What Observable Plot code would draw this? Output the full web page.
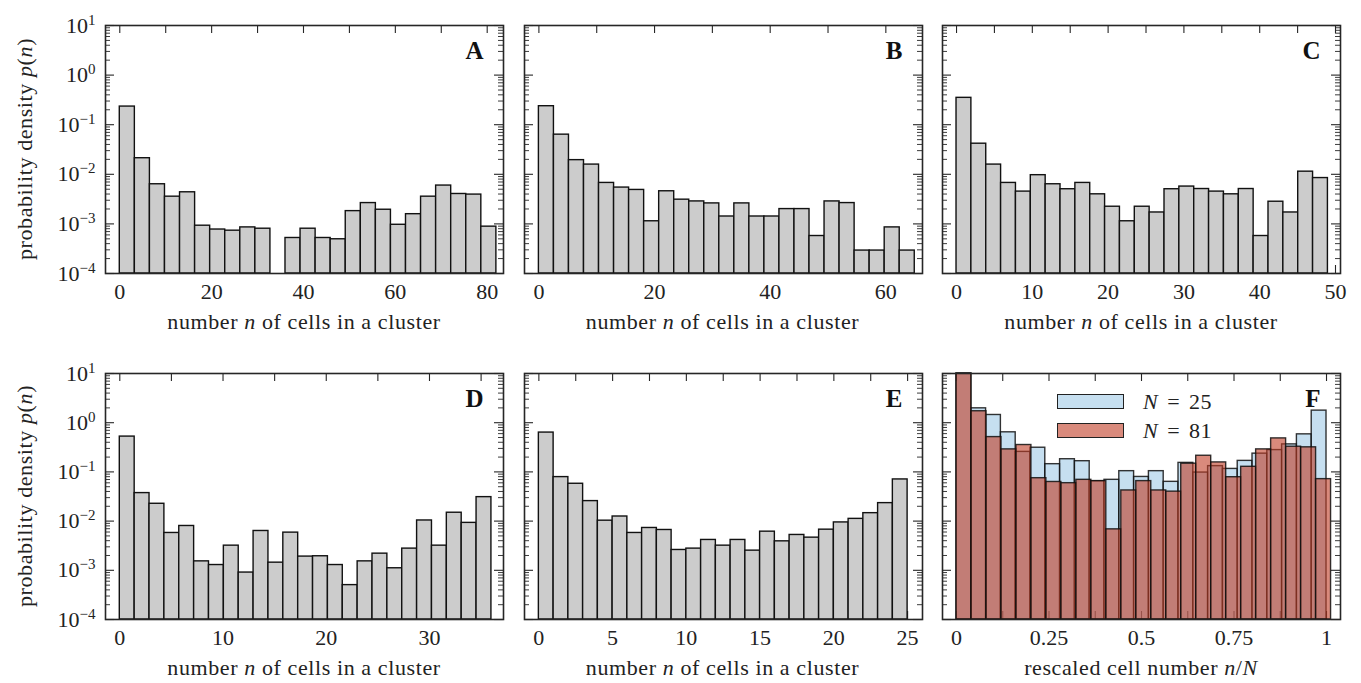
<!DOCTYPE html>
<html><head><meta charset="utf-8">
<script src="https://cdn.jsdelivr.net/npm/d3@7"></script>
<script src="https://cdn.jsdelivr.net/npm/@observablehq/plot@0.6"></script>
<style>
body{margin:0;background:#fff;}
#root{position:relative;width:1361px;height:683px;overflow:hidden;font-family:"Liberation Serif","DejaVu Serif";color:#222;}
.plot{position:absolute;}
.lab{position:absolute;font-size:22px;letter-spacing:0.6px;white-space:nowrap;transform:translate(-50%,-50%);line-height:1;}
.ylab{position:absolute;font-size:22px;letter-spacing:0.6px;white-space:nowrap;transform:translate(-50%,-50%) rotate(-90deg);line-height:1;}
.sw{position:absolute;box-sizing:border-box;border:1.3px solid #222;}
.lt{position:absolute;font-size:22px;word-spacing:3px;letter-spacing:0.5px;white-space:nowrap;transform:translateY(-50%);line-height:1;}
</style></head><body><div id="root"></div>
<script>
// ---- data (probability densities per bin) ----
const densityA = [0.232,0.0211,0.0063,0.00354,0.00434,0.00092,0.00077,0.00073,0.00085,0.0008,0.000084,0.00052,0.0008,0.00052,0.00049,0.00181,0.00263,0.00193,0.00096,0.00157,0.00354,0.00593,0.00401,0.0039,0.00088];
const rangeA = [0, 82];
const densityB = [0.236,0.063,0.0193,0.0157,0.0067,0.0054,0.00484,0.00113,0.00455,0.00308,0.00284,0.00259,0.00141,0.00259,0.00141,0.00141,0.00199,0.00199,0.00057,0.00284,0.00263,0.00029,0.00029,0.00085,0.00029];
const rangeB = [0, 65];
const densityC = [0.348,0.0414,0.0157,0.0067,0.00448,0.0096,0.0063,0.005,0.0067,0.00395,0.00222,0.00113,0.00222,0.0017,0.005,0.00566,0.00505,0.00448,0.00395,0.00505,0.00057,0.0028,0.0017,0.0113,0.0084];
const rangeC = [0, 49];
const densityD = [0.522,0.0371,0.0225,0.00574,0.00796,0.00152,0.00128,0.00317,0.0009,0.0063,0.00143,0.00583,0.0019,0.00193,0.00128,0.0005,0.00152,0.00218,0.0011,0.00276,0.0103,0.00317,0.0148,0.0092,0.0307];
const rangeD = [0, 36];
const densityE = [0.63,0.0784,0.0574,0.0255,0.0102,0.0124,0.00574,0.00725,0.0066,0.00259,0.00276,0.00414,0.00317,0.00414,0.00251,0.0061,0.00388,0.00523,0.00461,0.0067,0.0094,0.0111,0.0145,0.0232,0.0703];
const rangeE = [0, 25];
const densityF25 = [15.75,1.96,1.435,0.638,0.255,0.31,0.1435,0.181,0.165,0.0648,0.069,0.1035,0.079,0.1035,0.0628,0.1525,0.097,0.131,0.115,0.1675,0.235,0.2775,0.3625,0.58,1.76];
const rangeF25 = [0, 1];
const densityF81 = [18.8,1.71,0.51,0.287,0.352,0.0745,0.0624,0.059,0.069,0.065,0.0068,0.042,0.065,0.042,0.0397,0.147,0.213,0.156,0.078,0.127,0.287,0.48,0.325,0.316,0.0713];
const rangeF81 = [0, 1.0123];

// ---- ticks ----
const yDomain = [1e-4, 10];
const yMajor = [1e-4, 1e-3, 1e-2, 1e-1, 1, 10];
const yMajorLabels = ["10^−4","10^−3","10^−2","10^−1","10^0","10^1"];
const ticksA = [0,10,20,30,40,50,60,70,80], labelsA = [0,20,40,60,80];
const ticksB = [0,10,20,30,40,50,60], labelsB = [0,20,40,60];
const ticksC = [0,5,10,15,20,25,30,35,40,45,50], labelsC = [0,10,20,30,40,50];
const ticksD = [0,5,10,15,20,25,30,35], labelsD = [0,10,20,30];
const ticksE = [0,2.5,5,7.5,10,12.5,15,17.5,20,22.5,25], labelsE = [0,5,10,15,20,25];
const ticksF = [0,0.125,0.25,0.375,0.5,0.625,0.75,0.875,1], labelsF = [0,0.25,0.5,0.75,1];

const xTitleN = "number <i>n</i> of cells in a cluster";
const xTitleF = "rescaled cell number <i>n</i>/<i>N</i>";
const yTitle = "probability density <i>p</i>(<i>n</i>)";
const legendLabels = ["<i>N</i> = 25", "<i>N</i> = 81"];

// ---- styles / layout ----
const fontStack = '"Liberation Serif", "DejaVu Serif"';
const ink = "#262626";
const gray = "#cccccc";
const blue = "rgb(141,191,225)", red = "rgb(192,60,37)";
const colLeft = [105, 523.5, 942];
const rowTop = [25, 373];
const frameW = 398, frameH = [248, 246];

const panels = [
  {id:"A", col:0, row:0, xDomain:[-3.11,83.55], ticks:ticksA, labels:labelsA, title:xTitleN, series:[{v:densityA, r:rangeA, fill:gray, op:1}]},
  {id:"B", col:1, row:0, xDomain:[-2.49,66.34], ticks:ticksB, labels:labelsB, title:xTitleN, series:[{v:densityB, r:rangeB, fill:gray, op:1}]},
  {id:"C", col:2, row:0, xDomain:[-1.85,50.66], ticks:ticksC, labels:labelsC, title:xTitleN, series:[{v:densityC, r:rangeC, fill:gray, op:1}]},
  {id:"D", col:0, row:1, xDomain:[-1.385,37.17], ticks:ticksD, labels:labelsD, title:xTitleN, series:[{v:densityD, r:rangeD, fill:gray, op:1}]},
  {id:"E", col:1, row:1, xDomain:[-0.974,26.01], ticks:ticksE, labels:labelsE, title:xTitleN, series:[{v:densityE, r:rangeE, fill:gray, op:1}]},
  {id:"F", col:2, row:1, xDomain:[-0.0378,1.0378], ticks:ticksF, labels:labelsF, title:xTitleF, series:[{v:densityF25, r:rangeF25, fill:blue, op:0.5},{v:densityF81, r:rangeF81, fill:red, op:0.6}]}
];

const yMinor = d3.scaleLog().domain(yDomain).ticks().filter(v => !yMajor.some(m => Math.abs(m - v) / m < 1e-9));
const labelOf = new Map(yMajor.map((v, i) => [Math.round(Math.log10(v)), yMajorLabels[i]]));

function toBins(values, range) {
  const n = values.length, w = (range[1] - range[0]) / n;
  return values.map((y, i) => ({x1: range[0] + i * w, x2: range[0] + (i + 1) * w, y}));
}

const root = document.getElementById("root");

function addDiv(cls, html, left, top) {
  const d = document.createElement("div");
  d.className = cls; d.innerHTML = html;
  d.style.left = left + "px"; d.style.top = top + "px";
  root.appendChild(d);
  return d;
}

for (const p of panels) {
  const H = frameH[p.row], W = frameW;
  const mL = p.col === 0 ? 75 : 12, mR = 12, mT = 12, mB = 40;
  const marks = [
    Plot.tickX(p.ticks, {x: d => d, insetTop: H - 8, stroke: ink, strokeWidth: 1.1}),
    Plot.tickX(p.ticks, {x: d => d, insetBottom: H - 8, stroke: ink, strokeWidth: 1.1}),
    Plot.tickY(yMajor, {y: d => d, insetRight: W - 9, stroke: ink, strokeWidth: 1.1}),
    Plot.tickY(yMajor, {y: d => d, insetLeft: W - 9, stroke: ink, strokeWidth: 1.1}),
    Plot.tickY(yMinor, {y: d => d, insetRight: W - 5, stroke: ink, strokeWidth: 0.9}),
    Plot.tickY(yMinor, {y: d => d, insetLeft: W - 5, stroke: ink, strokeWidth: 0.9}),
    ...p.series.map(s => Plot.rect(toBins(s.v, s.r), {
      x1: "x1", x2: "x2", y1: yDomain[0], y2: "y",
      fill: s.fill, fillOpacity: s.op, stroke: "#111", strokeWidth: 1.4, strokeOpacity: s.op < 1 ? 0.85 : 1
    })),
    Plot.frame({stroke: ink, strokeWidth: 1.6}),
    Plot.text([p.id], {text: d => d, frameAnchor: "top-right", dx: -20, dy: 25, textAnchor: "end", lineAnchor: "middle", fontWeight: "bold", fontSize: 25, fill: "#111", fontFamily: fontStack})
  ];
  const chart = Plot.plot({
    width: W + mL + mR, height: H + mT + mB,
    marginLeft: mL, marginRight: mR, marginTop: mT, marginBottom: mB,
    style: {fontFamily: fontStack, fontSize: "22px", color: "#222", background: "transparent", overflow: "visible"},
    x: {domain: p.xDomain, ticks: p.labels, tickFormat: d => String(d), tickSize: 0, tickPadding: 10, label: null},
    y: p.col === 0
      ? {type: "log", domain: yDomain, clamp: true, ticks: yMajor, tickFormat: d => labelOf.get(Math.round(Math.log10(d))), tickSize: 0, tickPadding: 10, label: null}
      : {type: "log", domain: yDomain, clamp: true, axis: null},
    marks
  });
  chart.setAttribute("font-family", fontStack);
  // superscripts for the log tick labels
  chart.querySelectorAll("text").forEach(t => {
    const m = /^10\^(.+)$/.exec(t.textContent);
    if (!m) return;
    while (t.firstChild) t.removeChild(t.firstChild);
    const ns = "http://www.w3.org/2000/svg";
    const a = document.createElementNS(ns, "tspan"); a.textContent = "10";
    const b = document.createElementNS(ns, "tspan"); b.textContent = m[1];
    b.setAttribute("dy", "-8"); b.setAttribute("font-size", "15");
    t.appendChild(a); t.appendChild(b);
  });
  const wrap = document.createElement("div");
  wrap.className = "plot";
  wrap.style.left = (colLeft[p.col] - mL) + "px";
  wrap.style.top = (rowTop[p.row] - mT) + "px";
  wrap.appendChild(chart);
  root.appendChild(wrap);

  addDiv("lab", p.title, colLeft[p.col] + W / 2, rowTop[p.row] + H + 49);
  if (p.col === 0) addDiv("ylab", yTitle, 25, rowTop[p.row] + H / 2);

  if (p.id === "F") {
    const fl = colLeft[p.col], ft = rowTop[p.row];
    [[blue, 0.5, 21], [red, 0.6, 50]].forEach(([c, op, dy], i) => {
      const s = addDiv("sw", "", fl + 115, ft + dy);
      s.style.width = "67px"; s.style.height = "15px";
      s.style.background = c.replace("rgb", "rgba").replace(")", "," + op + ")");
      addDiv("lt", legendLabels[i], fl + 201, ft + dy + 7.5);
    });
  }
}
</script></body></html>
